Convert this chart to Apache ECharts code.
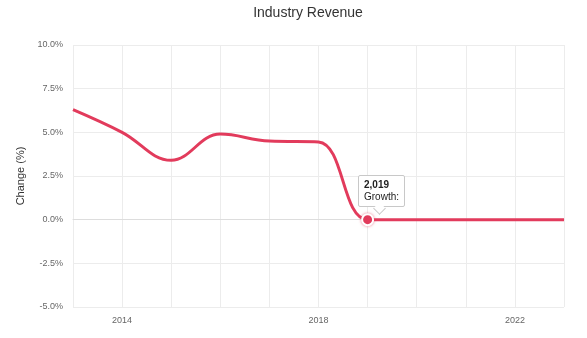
<!DOCTYPE html>
<html>
<head>
<meta charset="utf-8">
<script src="https://cdn.jsdelivr.net/npm/echarts@6/dist/echarts.min.js"></script>
<style>
html,body{margin:0;padding:0;background:#fff;}
#chart{width:587px;height:338px;}
</style>
</head>
<body>
<div id="chart"></div>
<script>
var years = [2013, 2014, 2015, 2016, 2017, 2018, 2019, 2020, 2021, 2022, 2023];
var growth = [6.3, 5.0, 3.4, 4.9, 4.5, 4.45, 0.0, 0.0, 0.0, 0.0, 0.0];
var xLabelYears = [2014, 2018, 2022];
var yTicks = [-5, -2.5, 0, 2.5, 5, 7.5, 10];
var highlightYear = 2019;
var seriesName = 'Growth';

var FONT = "Helvetica, 'Liberation Sans', Arial, sans-serif";
var chart = echarts.init(document.getElementById('chart'), null, {renderer: 'canvas'});
var hlIndex = years.indexOf(highlightYear);
var lineColor = '#e23b5c';

var option = {
  animation: false,
  title: {
    text: 'Industry Revenue',
    left: 303, top: 1, textAlign: 'center',
    textStyle: {fontFamily: FONT, fontSize: 14, fontWeight: 'normal', color: '#333'}
  },
  grid: {left: 73, right: 23, top: 45, bottom: 31},
  tooltip: {
    trigger: 'item',
    position: function (point) { return [point[0] - 10, point[1] - 45]; },
    alwaysShowContent: true,
    transitionDuration: 0,
    backgroundColor: '#fff',
    borderColor: '#c8c8c8',
    borderWidth: 1,
    padding: [3, 5],
    extraCssText: 'box-shadow:none;border-radius:2px;line-height:12px;overflow:visible;',
    textStyle: {fontFamily: FONT, fontSize: 10, color: '#222'},
    formatter: function (p) {
      return '<div style="position:relative;">' +
        '<b>' + p.value[0].toLocaleString('en-US') + '</b><br/>' + p.seriesName + ':' +
        '<div style="position:absolute;left:11px;bottom:-10px;width:8px;height:8px;background:#fff;' +
        'border-right:1px solid #c8c8c8;border-bottom:1px solid #c8c8c8;transform:rotate(45deg);"></div></div>';
    }
  },
  xAxis: {
    type: 'value',
    min: years[0], max: years[years.length - 1], interval: 1,
    axisLine: {show: true, lineStyle: {color: '#ddd'}},
    axisTick: {show: false},
    splitLine: {show: true, lineStyle: {color: '#ececec'}},
    axisLabel: {
      color: '#666', fontSize: 9, fontFamily: FONT, margin: 9,
      formatter: function (v) { return xLabelYears.indexOf(v) >= 0 ? String(v) : ''; }
    }
  },
  yAxis: {
    type: 'value',
    min: yTicks[0], max: yTicks[yTicks.length - 1], interval: 2.5,
    name: 'Change (%)', nameLocation: 'middle', nameGap: 46,
    nameTextStyle: {fontFamily: FONT, fontSize: 11, color: '#333'},
    axisLine: {show: false},
    axisTick: {show: false},
    splitLine: {show: true, lineStyle: {color: '#ececec'}},
    axisLabel: {
      color: '#666', fontSize: 9, fontFamily: FONT, margin: 10,
      formatter: function (v) { return v.toFixed(1) + '%'; }
    }
  },
  series: [{
    name: seriesName,
    type: 'line',
    smooth: 0.4,
    data: years.map(function (y, i) { return [y, growth[i]]; }),
    lineStyle: {color: lineColor, width: 3},
    itemStyle: {color: lineColor, borderColor: '#fff', borderWidth: 2, shadowColor: 'rgba(226,59,92,0.55)', shadowBlur: 3},
    symbol: 'circle',
    symbolSize: function (v, p) { return p.dataIndex === hlIndex ? 11 : 0; },
    emphasis: {disabled: true}
  }]
};
chart.setOption(option);
chart.dispatchAction({type: 'showTip', seriesIndex: 0, dataIndex: hlIndex});
</script>
</body>
</html>
